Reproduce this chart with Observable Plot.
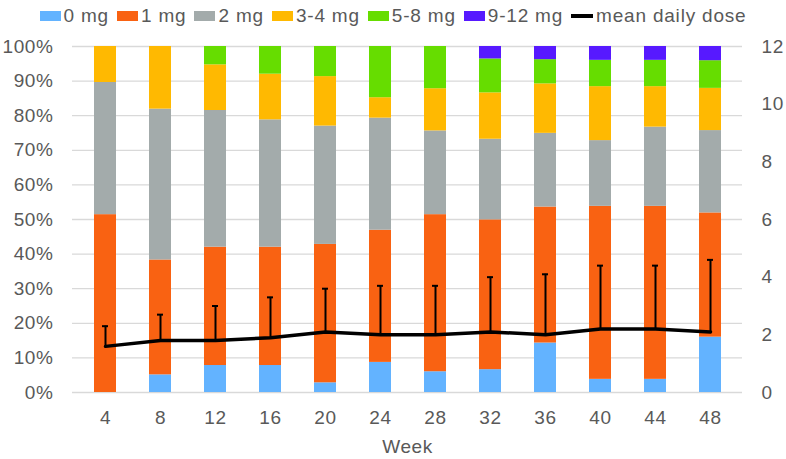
<!DOCTYPE html>
<html>
<head>
<meta charset="utf-8">
<script src="https://cdn.jsdelivr.net/npm/d3@7"></script>
<script src="https://cdn.jsdelivr.net/npm/@observablehq/plot@0.6"></script>
<style>
  html, body { margin: 0; padding: 0; background: #fff; }
  body { width: 786px; height: 459px; overflow: hidden; font-family: "Liberation Sans", Arial, sans-serif; color: #595959; }
  #legend { height: 30px; display: flex; justify-content: center; align-items: center; gap: 8px; font-size: 19px; letter-spacing: 0.8px; padding-top: 1px; box-sizing: border-box; }
  #legend .item { display: flex; align-items: center; gap: 3px; }
  #legend .sw { width: 21px; height: 10px; display: inline-block; }
  #legend .ln { width: 22px; height: 4px; background: #000; display: inline-block; }
</style>
</head>
<body>
<div id="legend"></div>
<div id="chart"></div>
<script>
const weeks = ["4","8","12","16","20","24","28","32","36","40","44","48"];
const categories = ["0 mg","1 mg","2 mg","3-4 mg","5-8 mg","9-12 mg"];
const colors = ["#63b3ff","#f96212","#a3abab","#ffb901","#66dd00","#5719ff"];
const pct0mg  = [0,   5.1, 7.8, 7.8, 2.8, 8.7, 6.0, 6.6, 14.3, 3.8, 3.8, 16.0];
const pct1mg  = [51.4,33.2,34.2,34.2,40.0,38.2,45.4,43.3,39.3,50.0,50.0,35.9];
const pct2mg  = [38.2,43.6,39.5,36.8,34.2,32.4,24.2,23.3,21.3,19.0,22.9,23.8];
const pct34mg = [10.4,18.1,13.2,13.2,14.3,5.9, 12.2,13.4,14.3,15.6,11.7,12.2];
const pct58mg = [0,   0,   5.3, 8.0, 8.7, 14.8,12.2,9.8, 7.0, 7.6, 7.6, 8.0];
const pct912mg= [0,   0,   0,   0,   0,   0,   0,   3.6, 3.8, 4.0, 4.0, 4.1];
const meanDose = [1.6,1.8,1.8,1.9,2.1,2.0,2.0,2.1,2.0,2.2,2.2,2.1];
const doseUpper= [2.3,2.7,3.0,3.3,3.6,3.7,3.7,4.0,4.1,4.4,4.4,4.6];
const doseTicks = [0,2,4,6,8,10,12];
const doseMax = 12;

const series = [pct0mg,pct1mg,pct2mg,pct34mg,pct58mg,pct912mg];
const stacked = [];
weeks.forEach((w,i) => categories.forEach((c,j) => stacked.push({week:w, cat:c, pct:series[j][i]})));
const dose = weeks.map((w,i) => ({week:w, mean:meanDose[i], upper:doseUpper[i]}));
const toPct = d => d / doseMax * 100;

// legend
const leg = document.getElementById("legend");
categories.forEach((c,i) => {
  const it = document.createElement("span"); it.className = "item";
  it.innerHTML = `<span class="sw" style="background:${colors[i]}"></span><span>${c}</span>`;
  leg.appendChild(it);
});
const li = document.createElement("span"); li.className = "item";
li.innerHTML = `<span class="ln"></span><span>mean daily dose</span>`;
leg.appendChild(li);

const chart = Plot.plot({
  width: 786,
  height: 429,
  marginTop: 16,
  marginBottom: 67,
  marginLeft: 72,
  marginRight: 44,
  style: {fontFamily: "Liberation Sans, Arial, sans-serif", fontSize: "19px", letterSpacing: "0.6px", color: "#595959", background: "#fff"},
  x: {domain: weeks, paddingInner: 0.6, paddingOuter: 0.3, label: null},
  y: {domain: [0, 100], label: null},
  color: {domain: categories, range: colors},
  marks: [
    Plot.gridY(d3.range(0, 101, 10), {stroke: "#d9d9d9", strokeOpacity: 1, strokeWidth: 1.3}),
    Plot.barY(stacked, {x: "week", y: "pct", fill: "cat"}),
    Plot.axisY(d3.range(0, 101, 10), {anchor: "left", tickSize: 0, tickPadding: 19, tickFormat: d => d + "%", label: null, fill: "#595959"}),
    Plot.axisY(doseTicks.map(toPct), {anchor: "right", tickSize: 0, tickPadding: 19, tickFormat: d => String(Math.round(d * doseMax / 100)), label: null, fill: "#595959", textAnchor: "start"}),
    Plot.axisX({tickSize: 0, tickPadding: 18, label: "Week", labelAnchor: "center", labelOffset: 60, fill: "#595959"}),
    Plot.ruleX(dose, {x: "week", y1: d => toPct(d.mean), y2: d => toPct(d.upper), stroke: "#000", strokeWidth: 2}),
    Plot.tickY(dose, {x: "week", y: d => toPct(d.upper), stroke: "#000", strokeWidth: 2, insetLeft: 8, insetRight: 8}),
    Plot.line(dose, {x: "week", y: d => toPct(d.mean), stroke: "#000", strokeWidth: 3.5, curve: "linear"})
  ]
});
document.getElementById("chart").appendChild(chart);
</script>
</body>
</html>
